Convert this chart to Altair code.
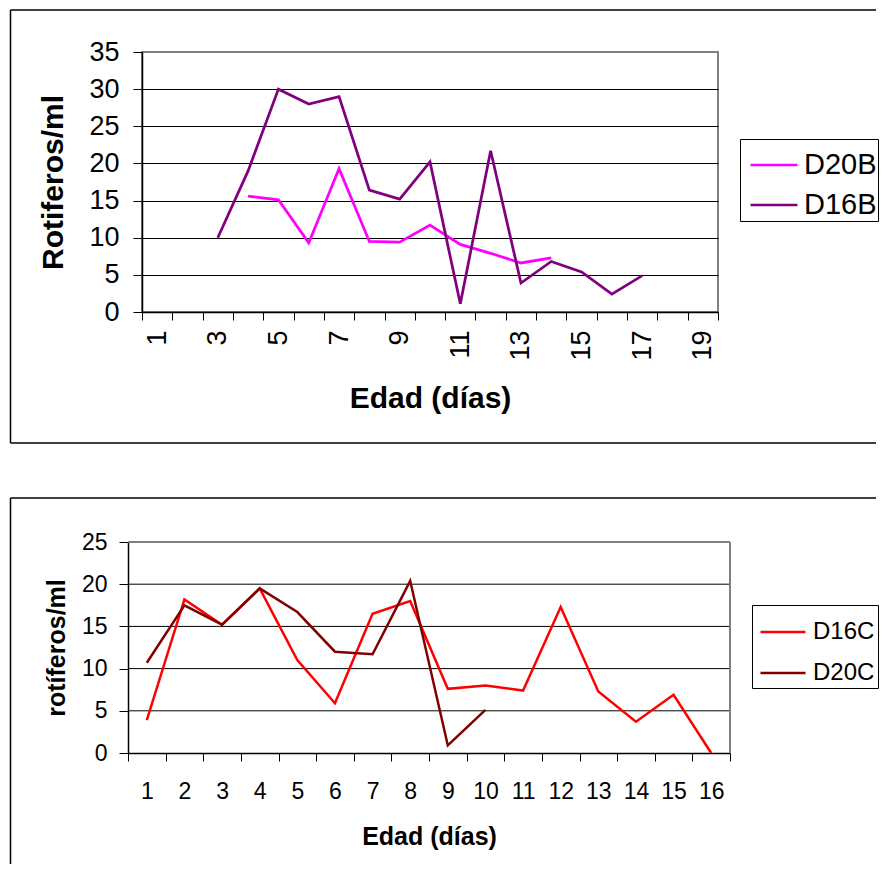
import altair as alt
import pandas as pd

FONT = "Liberation Sans"

# ---------------- top chart data ----------------
dias_top = list(range(1, 20))
dias_d20b = [4, 5, 6, 7, 8, 9, 10, 11, 12, 13, 14]
val_d20b = [15.6, 15.1, 9.3, 19.3, 9.5, 9.4, 11.7, 9.1, 7.9, 6.6, 7.3]
dias_d16b = [3, 4, 5, 6, 7, 8, 9, 10, 11, 12, 13, 14, 15, 16, 17]
val_d16b = [10.0, 19.0, 30.0, 28.0, 29.0, 16.4, 15.2, 20.2, 1.1, 21.7, 3.9, 6.8, 5.4, 2.4, 4.9]
series_top = ["D20B", "D16B"]
colors_top = ["#FF00FF", "#800080"]
yticks_top = [0, 5, 10, 15, 20, 25, 30, 35]

# ---------------- bottom chart data ----------------
dias_bot = list(range(1, 17))
dias_d16c = list(range(1, 17))
val_d16c = [3.9, 18.2, 15.2, 19.5, 11.0, 5.9, 16.5, 18.0, 7.6, 8.0, 7.4, 17.3, 7.3, 3.7, 6.9, 0.0]
dias_d20c = list(range(1, 11))
val_d20c = [10.7, 17.5, 15.2, 19.5, 16.7, 12.0, 11.7, 20.4, 0.9, 5.1]
series_bot = ["D16C", "D20C"]
colors_bot = ["#FF0000", "#800000"]
yticks_bot = [0, 5, 10, 15, 20, 25]

df_top = pd.concat([
    pd.DataFrame({"dia": dias_d20b, "valor": val_d20b, "serie": "D20B"}),
    pd.DataFrame({"dia": dias_d16b, "valor": val_d16b, "serie": "D16B"}),
])
df_bot = pd.concat([
    pd.DataFrame({"dia": dias_d16c, "valor": val_d16c, "serie": "D16C"}),
    pd.DataFrame({"dia": dias_d20c, "valor": val_d20c, "serie": "D20C"}),
])
one = pd.DataFrame({"k": [0]})

# page geometry: both views share the same nominal left edge
LEFT = -131.5    # frame left, relative to nominal view origin
RIGHT = 734      # frame right end (top line), relative to nominal view origin


def frame(top, bottom, bottom_line):
    base = alt.Chart(one).mark_rule(color="#000000", strokeWidth=1.5, clip=False)
    layers = [
        base.encode(x=alt.value(LEFT), x2=alt.value(RIGHT), y=alt.value(top)),
        base.encode(x=alt.value(LEFT), y=alt.value(top), y2=alt.value(bottom)),
    ]
    if bottom_line:
        layers.append(base.encode(x=alt.value(LEFT), x2=alt.value(RIGHT), y=alt.value(bottom)))
    return layers


def axes(fs_tick, fs_title, rotate, title_x, title_y, lab_pad_x, lab_pad_y, ytitle, yticks, H,
         grid, yoffset):
    x_axis = alt.Axis(
        title="Edad (días)", grid=False, tickBand="extent", tickSize=8, tickColor="#000000",
        domainColor="#000000", domainWidth=1.5, labelFont=FONT, labelFontSize=fs_tick,
        labelColor="#000000", labelAngle=270 if rotate else 0, labelOverlap=False,
        labelPadding=lab_pad_x,
        labelExpr="datum.value % 2 == 1 ? datum.label : ''" if rotate else "datum.label",
        titleFont=FONT, titleFontSize=fs_title, titleFontWeight="bold", titleColor="#000000",
        titleY=title_y, titleBaseline="middle",
    )
    ykw = dict(
        title=ytitle, values=yticks, grid=grid,
        tickSize=9, tickColor="#000000", domainColor="#000000", domainWidth=1.5,
        labelFont=FONT, labelFontSize=fs_tick, labelColor="#000000", labelPadding=lab_pad_y,
        titleFont=FONT, titleFontSize=fs_title, titleFontWeight="bold", titleColor="#000000",
        titleX=title_x, titleY=H / 2, titleAngle=270, titleAlign="center", titleBaseline="middle",
        offset=yoffset,
    )
    if grid:
        ykw["gridColor"] = {"condition": {"test": f"datum.value >= {yticks[-1]}", "value": "#808080"},
                            "value": "#000000"}
        ykw["gridWidth"] = 1
    return x_axis, alt.Axis(**ykw)


def legend(lx, ly, fs, rowpad, pad, symoff, symsize, laboff):
    return alt.Legend(
        title=None, orient="none", legendX=lx, legendY=ly,
        strokeColor="#000000", fillColor="#FFFFFF", padding=pad,
        symbolType="stroke", symbolSize=symsize, symbolStrokeWidth=2.5, symbolOffset=symoff,
        labelFont=FONT, labelFontSize=fs, labelColor="#000000",
        labelOffset=laboff, rowPadding=rowpad)


# ---------------- top chart ----------------
W1, H1 = 576, 260
xa, ya = axes(27, 30, True, -89, 86, 10, 14, "Rotiferos/ml", yticks_top, H1, True, 0)
top_lines = alt.Chart(df_top).mark_line(strokeWidth=2.75, clip=False).encode(
    x=alt.X("dia:O", scale=alt.Scale(type="band", domain=dias_top, paddingInner=0, paddingOuter=0),
            bandPosition=0.5, axis=xa),
    y=alt.Y("valor:Q", scale=alt.Scale(domain=[0, 35], nice=False), axis=ya),
    color=alt.Color("serie:N", scale=alt.Scale(domain=series_top, range=colors_top), sort=series_top,
                    legend=legend(598, 87, 29, 0, 1, 8, 2209, 5)),
    order=alt.Order("dia:O"),
)
top = alt.layer(*frame(-42, 391, True), top_lines).properties(
    width=W1, height=H1, view=alt.ViewBackground(stroke="#808080", strokeWidth=2))

# ---------------- bottom chart (view shifted 14 px left of nominal origin) ----------------
SH = 14
W2, H2 = 588, 211
xb, yb = axes(23, 25, False, -72, 83, 19, 12, "rotíferos/ml", yticks_bot, H2, False, SH)
grid_bot = alt.Chart(pd.DataFrame({"v": yticks_bot[1:-1]})).mark_rule(
    color="#000000", strokeWidth=1).encode(
    y=alt.Y("v:Q"), x=alt.value(-SH), x2=alt.value(W2))
border_top = alt.Chart(one).mark_rule(color="#808080", strokeWidth=2).encode(
    x=alt.value(-SH), x2=alt.value(W2), y=alt.value(0))
border_right = alt.Chart(one).mark_rule(color="#808080", strokeWidth=2).encode(
    x=alt.value(W2), y=alt.value(0), y2=alt.value(H2))
bot_lines = alt.Chart(df_bot).mark_line(strokeWidth=2.5, clip=False).encode(
    x=alt.X("dia:O", scale=alt.Scale(type="band", domain=dias_bot, range=[-SH, W2],
                                     paddingInner=0, paddingOuter=0),
            bandPosition=0.5, axis=xb),
    y=alt.Y("valor:Q", scale=alt.Scale(domain=[0, 25], nice=False), axis=yb),
    color=alt.Color("serie:N", scale=alt.Scale(domain=series_bot, range=colors_bot), sort=series_bot,
                    legend=legend(610, 63, 24, 5, 3, 4, 2025, 6)),
    order=alt.Order("dia:O"),
)
bottom = alt.layer(*frame(-44, 322, False), grid_bot, border_top, border_right, bot_lines).properties(
    width=W2, height=H2, view=alt.ViewBackground(stroke="transparent"))

chart = alt.vconcat(top, bottom, spacing=51).resolve_scale(
    color="independent").resolve_legend(color="independent").properties(padding=0)

chart.save("out.html", embed_options={"renderer": "svg", "actions": False})
